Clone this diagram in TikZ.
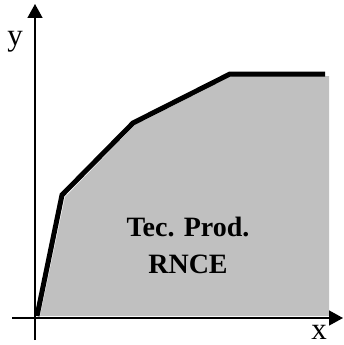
\documentclass[tikz,border=0pt]{standalone}
\usepackage{fontspec}
\setmainfont{Liberation Serif}
\usepackage{tikz}
\usetikzlibrary{arrows.meta}
\definecolor{techgray}{RGB}{192,192,192}

\begin{document}
\begin{tikzpicture}[
  x=1pt, y=-1pt,
  axis/.style={line width=1.5pt, -{Triangle[length=14pt,width=15pt]}},
  frontier/.style={line width=5pt, line join=miter},
  region/.style={fill=techgray},
  axlabel/.style={font=\fontsize{31}{31}\selectfont, inner sep=0pt},
  techlabel/.style={font=\fontsize{28}{37}\selectfont\bfseries, align=center, inner sep=0pt}
]
  \useasboundingbox (0,0) rectangle (343,345);

  % Technology set (shaded)
  \fill[region] (40,316) -- (65,197) -- (135,125) -- (232,76) -- (329,76) -- (329,316) -- cycle;

  % Axes
  \coordinate (xstart) at (12,318);
  \coordinate (xend)   at (343,318);
  \coordinate (ystart) at (35,340);
  \coordinate (yend)   at (35,4);
  \draw[axis] (xstart) -- (xend);
  \draw[axis] (ystart) -- (yend);

  % Frontier
  \coordinate (p0) at (37,316);
  \coordinate (p1) at (62,195);
  \coordinate (p2) at (133,123);
  \coordinate (p3) at (230,74);
  \coordinate (p4) at (325,74);
  \draw[frontier] (p0) -- (p1) -- (p2) -- (p3) -- (p4);

  % Labels
  \node[axlabel] (ylab) at (15,42) {y};
  \node[axlabel] (xlab) at (319,332) {x};
  \node[techlabel] (tech) at (188,245) {Tec. Prod.\\RNCE};
\end{tikzpicture}
\end{document}
